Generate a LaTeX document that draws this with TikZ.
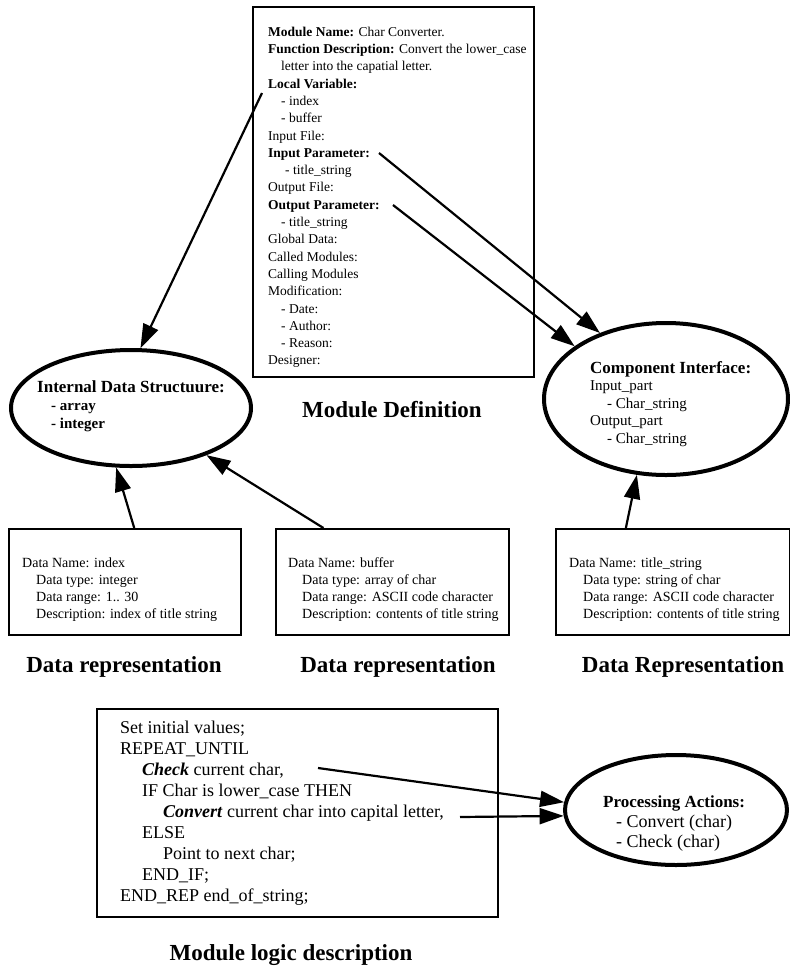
\documentclass[tikz,border=0pt]{standalone}
\usepackage{fontspec}
\setmainfont{Liberation Serif}
\usetikzlibrary{shapes.geometric,arrows.meta,calc}
\newcommand\fMD{\fontsize{13.5}{17.3}\selectfont}
\newcommand\fData{\fontsize{14}{17}\selectfont}
\newcommand\fLogic{\fontsize{18}{21}\selectfont}
\newcommand\fCap{\fontsize{23}{27}\selectfont\bfseries}
\newcommand\fTitle{\fontsize{17}{18}\selectfont\bfseries}
\begin{document}
\begin{tikzpicture}[x=1pt,y=-1pt,
  frame/.style={draw, line width=2.2pt, inner sep=0pt, anchor=north west},
  oval/.style={draw, ellipse, line width=4pt, inner sep=0pt},
  txt/.style={align=left, inner sep=0pt, anchor=north west},
  arr/.style={line width=2.2pt, -{Triangle[length=24pt,width=16pt]}},
  caption/.style={font=\fCap, inner sep=0pt}]
\useasboundingbox (0,0) rectangle (790,970);

% ---------- Module definition ----------
\node[frame, minimum width=281pt, minimum height=370pt] (md) at (252,6) {};
\node[txt, font=\fMD] (mdtext) at (268,26.7) {%
\textbf{Module Name:} Char Converter.\\
\textbf{Function Description:} Convert the lower\_case\\
\hspace*{13pt}letter into the capatial letter.\\
\textbf{Local Variable:}\\
\hspace*{13pt}- index\\
\hspace*{13pt}- buffer\\
Input File:\\
\textbf{Input Parameter:}\\
\hspace*{17pt}- title\_string\\
Output File:\\
\textbf{Output Parameter:}\\
\hspace*{13pt}- title\_string\\
Global Data:\\
Called Modules:\\
Calling Modules\\
Modification:\\
\hspace*{13pt}- Date:\\
\hspace*{13pt}- Author:\\
\hspace*{13pt}- Reason:\\
Designer:};
\node[caption] (mdcap) at (392,410) {Module Definition};

% ---------- Ellipses ----------
\node[oval, minimum width=240pt, minimum height=116pt] (ids) at (131,408) {};
\node[txt, font=\fontsize{15}{18}\selectfont] (idstext) at (37,380) {%
{\fTitle Internal Data Structuure:}\\
\hspace*{14pt}\textbf{- array}\\
\hspace*{14pt}\textbf{- integer}};

\node[oval, minimum width=244pt, minimum height=152pt] (ci) at (666,399) {};
\node[txt, font=\fontsize{15}{17.5}\selectfont] (citext) at (590,361) {%
{\fTitle Component Interface:}\\
Input\_part\\
\hspace*{17pt}- Char\_string\\
Output\_part\\
\hspace*{17pt}- Char\_string};

\node[oval, minimum width=222pt, minimum height=110pt] (pa) at (676,810) {};
\node[txt, font=\fontsize{18}{20}\selectfont] (patext) at (603,795.4) {%
{\fTitle Processing Actions:}\\
\hspace*{13pt}- Convert (char)\\
\hspace*{13pt}- Check (char)};

% ---------- Data boxes ----------
\node[frame, minimum width=232pt, minimum height=106pt] (idx) at (8,528) {};
\node[txt, font=\fData] (idxtext) at (22,557.5) {%
Data Name: index\\
\hspace*{14pt}Data type: integer\\
\hspace*{14pt}Data range: 1.. 30\\
\hspace*{14pt}Description: index of title string};
\node[caption] (idxcap) at (124,667) {Data representation};

\node[frame, minimum width=233pt, minimum height=106pt] (buf) at (275,528) {};
\node[txt, font=\fData] (buftext) at (288,557.5) {%
Data Name: buffer\\
\hspace*{14pt}Data type: array of char\\
\hspace*{14pt}Data range: ASCII code character\\
\hspace*{14pt}Description: contents of title string};
\node[caption] (bufcap) at (398,667) {Data representation};

\node[frame, minimum width=234pt, minimum height=106pt] (tst) at (555,528) {};
\node[txt, font=\fData] (tsttext) at (569,557.5) {%
Data Name: title\_string\\
\hspace*{14pt}Data type: string of char\\
\hspace*{14pt}Data range: ASCII code character\\
\hspace*{14pt}Description: contents of title string};
\node[caption] (tstcap) at (683,667) {Data Representation};

% ---------- Module logic ----------
\node[frame, minimum width=401pt, minimum height=208pt] (ml) at (96,708) {};
\node[txt, font=\fLogic] (mltext) at (120,721) {%
Set initial values;\\
REPEAT\_UNTIL\\
\hspace*{22pt}\textbf{\textit{Check}} current char,\\
\hspace*{22pt}IF Char is lower\_case THEN\\
\hspace*{43pt}\textbf{\textit{Convert}} current char into capital letter,\\
\hspace*{22pt}ELSE\\
\hspace*{43pt}Point to next char;\\
\hspace*{22pt}END\_IF;\\
END\_REP end\_of\_string;};
\node[caption] (mlcap) at (291,955) {Module logic description};

% ---------- Connectors ----------
\coordinate (lv) at (262,93);
\coordinate (ip) at (379,153);
\coordinate (op) at (393,205);
\coordinate (chk) at (318,768);
\coordinate (cnv) at (460,817);
\draw[arr] (lv) -- (ids.81);
\draw[arr] (ip) -- (ci.135.5);
\draw[arr] (op) -- (ci.150.2);
\draw[arr] ($(idx.north west)!0.539!(idx.north east)$) -- (ids.256.9);
\draw[arr] ($(buf.north west)!0.206!(buf.north east)$) -- (ids.328.7);
\draw[arr] ($(tst.north west)!0.30!(tst.north east)$) -- (ci.249.3);
\draw[arr] (chk) -- (pa.176.3);
\draw[arr] (cnv) -- (pa.183.2);
\end{tikzpicture}
\end{document}
